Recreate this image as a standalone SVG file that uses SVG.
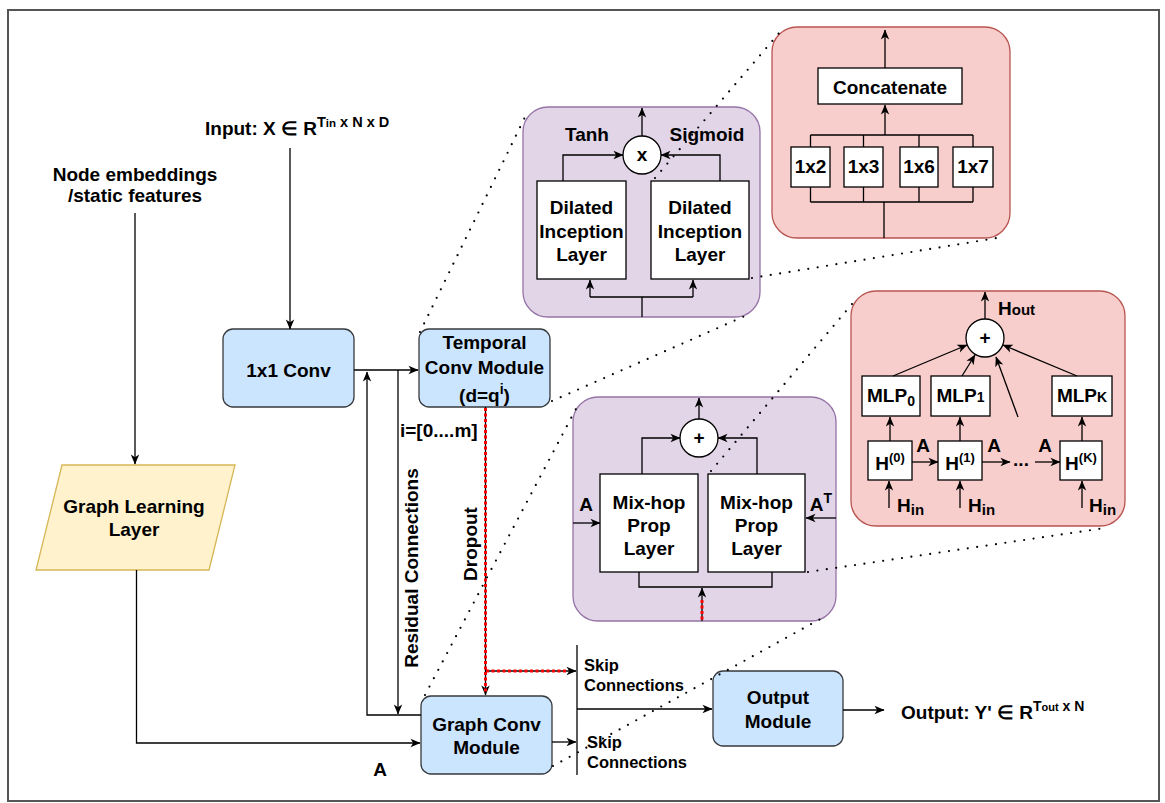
<svg xmlns="http://www.w3.org/2000/svg" width="1165" height="803" viewBox="0 0 1165 803">
  <defs>
    <marker id="arr" markerWidth="11" markerHeight="10" refX="10" refY="5" orient="auto" markerUnits="userSpaceOnUse">
      <path d="M0.5,0.8 L10.5,5 L0.5,9.2 L3.2,5 Z" fill="#000"/>
    </marker>
    <style>
      .t { font-family: "Liberation Sans", Arial, Helvetica, sans-serif; font-weight: bold; font-size: 19px; fill: #000; text-anchor: middle; }
      .s { font-size: 16.5px; text-anchor: start; }
      .l { text-anchor: start; }
      .blue { fill: #cce5ff; stroke: #36393d; stroke-width: 1.3; }
      .purple { fill: #e1d5e7; stroke: #9673a6; stroke-width: 1.3; }
      .red { fill: #f8cecc; stroke: #b85450; stroke-width: 1.3; }
      .yellow { fill: #fff2cc; stroke: #d6b656; stroke-width: 1.3; }
      .box { fill: #fff; stroke: #000; stroke-width: 1.3; }
      .ln { fill: none; stroke: #000; stroke-width: 1.3; }
      .ar { fill: none; stroke: #000; stroke-width: 1.3; marker-end: url(#arr); }
      .drop { fill: none; stroke: #ff0000; stroke-width: 3; stroke-dasharray: 3 2.5; }
      .dot { fill: none; stroke: #000; stroke-width: 2.2; stroke-linecap: round; stroke-dasharray: 0 9.5; }
    </style>
  </defs>

  <!-- outer frame -->
  <rect x="8" y="10" width="1151" height="791" fill="#fff" stroke="#555" stroke-width="2"/>

  <!-- free labels -->
  <g id="input-label">
    <text class="t l" x="205" y="135" font-size="19">Input: X ∈ R<tspan font-size="14.5" dy="-8">T</tspan><tspan font-size="11.5">in</tspan><tspan font-size="14.5"> x N x D</tspan></text>
  </g>
  <g id="node-embeddings">
    <text class="t" x="135" y="181" font-size="18">Node embeddings</text>
    <text class="t" x="135" y="202" font-size="18">/static features</text>
  </g>
  <g id="output-label">
    <text class="t l" x="901" y="719" font-size="18">Output: Y' ∈ R<tspan font-size="14" dy="-8">T</tspan><tspan font-size="11">out</tspan><tspan font-size="14"> x N</tspan></text>
  </g>

  <!-- main pipeline nodes -->
  <g id="graph-learning-layer">
    <polygon class="yellow" points="62,465 235,465 209,570 36,570"/>
    <text class="t" x="134" y="513">Graph Learning</text>
    <text class="t" x="134" y="536">Layer</text>
  </g>
  <g id="conv-1x1">
    <rect class="blue" x="223" y="329" width="131" height="78" rx="10"/>
    <text class="t" x="288.5" y="377">1x1 Conv</text>
  </g>
  <g id="temporal-conv-module">
    <rect class="blue" x="419" y="329" width="131" height="78" rx="10"/>
    <text class="t" x="484.5" y="349">Temporal</text>
    <text class="t" x="484.5" y="374">Conv Module</text>
    <text class="t" x="484.5" y="402">(d=q<tspan font-size="14" dy="-8">i</tspan><tspan dy="8">)</tspan></text>
  </g>
  <g id="graph-conv-module">
    <rect class="blue" x="421" y="696" width="131" height="78" rx="10"/>
    <text class="t" x="486.5" y="731">Graph Conv</text>
    <text class="t" x="486.5" y="754">Module</text>
  </g>
  <g id="output-module">
    <rect class="blue" x="713" y="671" width="130" height="75" rx="10"/>
    <text class="t" x="778" y="704">Output</text>
    <text class="t" x="778" y="728">Module</text>
  </g>

  <!-- temporal conv detail -->
  <g id="temporal-detail">
    <rect class="purple" x="523" y="107" width="237" height="210" rx="25"/>
    <rect class="box" x="537" y="181" width="89" height="98"/>
    <text class="t" x="581.5" y="214">Dilated</text>
    <text class="t" x="581.5" y="238">Inception</text>
    <text class="t" x="581.5" y="261">Layer</text>
    <rect class="box" x="651" y="181" width="98" height="98"/>
    <text class="t" x="700" y="214">Dilated</text>
    <text class="t" x="700" y="238">Inception</text>
    <text class="t" x="700" y="261">Layer</text>
    <circle class="box" cx="642" cy="155" r="19"/>
    <text class="t" x="642" y="161">x</text>
    <text class="t" x="587" y="141">Tanh</text>
    <text class="t" x="707" y="141">Sigmoid</text>
    <path class="ar" d="M642,136 V108"/>
    <path class="ar" d="M563,181 V155 H623"/>
    <path class="ar" d="M720,181 V155 H661"/>
    <path class="ln" d="M642,317 V297 M590,297 H693"/>
    <path class="ar" d="M590,297 V280"/>
    <path class="ar" d="M693,297 V280"/>
  </g>

  <!-- dilated inception detail -->
  <g id="inception-detail">
    <rect class="red" x="772" y="27" width="238" height="211" rx="25"/>
    <rect class="box" x="818" y="68" width="144" height="36"/>
    <text class="t" x="890" y="94">Concatenate</text>
    <path class="ar" d="M885,68 V30"/>
    <path class="ar" d="M885,135 V105"/>
    <path class="ln" d="M810.5,135 H973 M810.5,135 V147 M863.5,135 V147 M919,135 V147 M973,135 V147"/>
    <rect class="box" x="791" y="147" width="39" height="40"/>
    <text class="t" x="810.5" y="173">1x2</text>
    <rect class="box" x="844" y="147" width="39" height="40"/>
    <text class="t" x="863.5" y="173">1x3</text>
    <rect class="box" x="900" y="147" width="38" height="40"/>
    <text class="t" x="919" y="173">1x6</text>
    <rect class="box" x="953" y="147" width="40" height="40"/>
    <text class="t" x="973" y="173">1x7</text>
    <path class="ln" d="M810.5,187 V202 M863.5,187 V202 M919,187 V202 M973,187 V202 M810.5,202 H973 M884,202 V238"/>
  </g>

  <!-- graph conv detail -->
  <g id="graph-conv-detail">
    <rect class="purple" x="573" y="397" width="263" height="224" rx="25"/>
    <circle class="box" cx="699" cy="438" r="19"/>
    <text class="t" x="699" y="444">+</text>
    <path class="ar" d="M699,419 V398"/>
    <rect class="box" x="600" y="474" width="98" height="98"/>
    <text class="t" x="649" y="509">Mix-hop</text>
    <text class="t" x="649" y="532">Prop</text>
    <text class="t" x="649" y="555">Layer</text>
    <rect class="box" x="708" y="474" width="97" height="98"/>
    <text class="t" x="756.5" y="509">Mix-hop</text>
    <text class="t" x="756.5" y="532">Prop</text>
    <text class="t" x="756.5" y="555">Layer</text>
    <path class="ar" d="M642,474 V438 H680"/>
    <path class="ar" d="M757,474 V438 H718"/>
    <path class="ln" d="M639,572 V587 H772 V572"/>
    <path class="ar" d="M702,621 V588"/>
    <path class="drop" d="M702,600 V621"/>
    <text class="t" x="586" y="511">A</text>
    <path class="ar" d="M573,523 H600"/>
    <text class="t" x="821" y="511">A<tspan font-size="14" dy="-8">T</tspan></text>
    <path class="ar" d="M836,518 H806"/>
  </g>

  <!-- mix-hop propagation detail -->
  <g id="mixhop-detail">
    <rect class="red" x="851" y="291" width="274" height="235" rx="25"/>
    <circle class="box" cx="985" cy="338" r="19"/>
    <text class="t" x="985" y="344">+</text>
    <path class="ar" d="M985,319 V292"/>
    <text class="t l" x="998" y="315">H<tspan font-size="15">out</tspan></text>
    <rect class="box" x="862" y="376" width="58" height="40"/>
    <text class="t" x="891" y="402">MLP<tspan font-size="14" dy="4">0</tspan></text>
    <rect class="box" x="931" y="376" width="59" height="40"/>
    <text class="t" x="960.5" y="402">MLP<tspan font-size="14">1</tspan></text>
    <rect class="box" x="1052" y="376" width="60" height="40"/>
    <text class="t" x="1082" y="402">MLP<tspan font-size="14">K</tspan></text>
    <path class="ar" d="M893,376 L967,345"/>
    <path class="ar" d="M962,376 L975,355"/>
    <path class="ar" d="M1018,417 L996,357"/>
    <path class="ar" d="M1077,376 L1003,345"/>
    <rect class="box" x="868" y="441" width="44" height="39"/>
    <text class="t" x="890" y="470">H<tspan font-size="13" dy="-8">(0)</tspan></text>
    <rect class="box" x="938" y="441" width="44" height="39"/>
    <text class="t" x="960" y="470">H<tspan font-size="13" dy="-8">(1)</tspan></text>
    <rect class="box" x="1060" y="441" width="42" height="39"/>
    <text class="t" x="1081" y="470">H<tspan font-size="13" dy="-8">(K)</tspan></text>
    <path class="ar" d="M890,441 V417"/>
    <path class="ar" d="M960,441 V417"/>
    <path class="ar" d="M1082,441 V417"/>
    <path class="ar" d="M912,462 H938"/>
    <path class="ar" d="M982,462 H1010"/>
    <text class="t" x="1021" y="466">...</text>
    <path class="ar" d="M1035,462 H1060"/>
    <text class="t" x="923" y="452">A</text>
    <text class="t" x="994" y="452">A</text>
    <text class="t" x="1045" y="452">A</text>
    <path class="ar" d="M889,508 V481"/>
    <path class="ar" d="M960,508 V481"/>
    <path class="ar" d="M1082,508 V481"/>
    <text class="t l" x="897" y="512">H<tspan font-size="15" dy="3">in</tspan></text>
    <text class="t l" x="968" y="512">H<tspan font-size="15" dy="3">in</tspan></text>
    <text class="t l" x="1089" y="512">H<tspan font-size="15" dy="3">in</tspan></text>
  </g>

  <!-- connectors -->
  <g id="connectors">
    <path class="ar" d="M290,148 V329"/>
    <path class="ar" d="M135,213 V464"/>
    <path class="ar" d="M354,370 H418"/>
    <path class="ar" d="M136.5,570 V743 H420"/>
    <path class="ar" d="M421,715 H367 V372"/>
    <path class="ar" d="M398,370 V714"/>
    <path class="ar" d="M485.5,407 V695"/>
    <path class="ar" d="M485.5,671 H576"/>
    <path class="drop" d="M485.5,408 V692 M486,671 H566"/>
    <path class="ar" d="M552,742 H576"/>
    <path class="ln" d="M577,645 V775"/>
    <path class="ar" d="M577,709 H712"/>
    <path class="ar" d="M843,710 H884"/>
    <!-- zoom guides -->
    <path class="dot" d="M420,332 L527,113"/>
    <path class="dot" d="M552,401 L745,316"/>
    <path class="dot" d="M655,178 L780,32"/>
    <path class="dot" d="M752,278 L997,238"/>
    <path class="dot" d="M425,695 L578,405"/>
    <path class="dot" d="M553,766 L824,617"/>
    <path class="dot" d="M711,471 L852,304"/>
    <path class="dot" d="M808,572 L1105,528"/>
  </g>

  <!-- connector labels -->
  <g id="connector-labels">
    <text class="t l" x="400" y="437">i=[0....m]</text>
    <text class="t" transform="translate(418,568) rotate(-90)">Residual Connections</text>
    <text class="t" transform="translate(477,544) rotate(-90)">Dropout</text>
    <text class="t" x="380" y="776">A</text>
    <text class="t s" x="584" y="671">Skip</text>
    <text class="t s" x="584" y="691">Connections</text>
    <text class="t s" x="587" y="748">Skip</text>
    <text class="t s" x="587" y="768">Connections</text>
  </g>
</svg>
